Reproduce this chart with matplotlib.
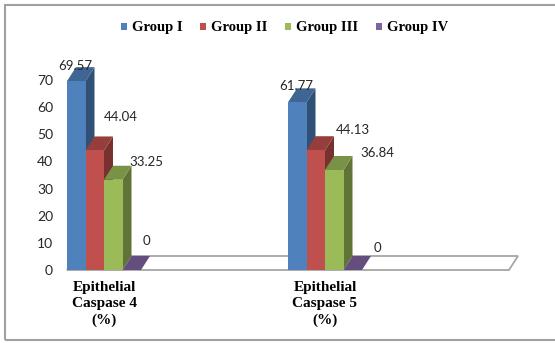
import matplotlib
matplotlib.use("Agg")
import matplotlib.pyplot as plt
import matplotlib.colors as mcolors
from matplotlib.patches import Polygon, Rectangle, Patch

# ---- data ----
categories = ["Epithelial\nCaspase 4\n(%)", "Epithelial\nCaspase 5\n(%)"]
groups = ["Group I", "Group II", "Group III", "Group IV"]
group_i = [69.57, 61.77]
group_ii = [44.04, 44.13]
group_iii = [33.25, 36.84]
group_iv = [0, 0]
series = [group_i, group_ii, group_iii, group_iv]
y_ticks = [0, 10, 20, 30, 40, 50, 60, 70]

# ---- styling ----
front_colors = ["#4F81BD", "#C0504D", "#9BBB59", "#8064A2"]
# label offsets (pixels) from the front-top-left corner of each bar
label_offsets = [
    [(8.5, 15), (35.5, 33.5), (42, 18), (24, 29)],
    [(8, 16), (46, 20), (52.5, 17), (34, 22)],
]

W, H = 555, 343
fig = plt.figure(figsize=(W / 100, H / 100), dpi=100)
ax = fig.add_axes([67 / W, (H - 270) / H, 442 / W, 190 / H])
ax.set_xlim(0, len(categories))
ax.set_ylim(0, 70)

# pixel sizes in data units
ux = len(categories) / 442.0
uy = 70 / 190.0
DX, DY = 9 * ux, 14 * uy
bar_w = 18.5 * ux


def shade(c, f):
    r, g, b = mcolors.to_rgb(c)
    return (r * f, g * f, b * f)


# floor
floor = Polygon([(0, 0), (len(categories), 0), (len(categories) + DX, DY), (DX, DY)],
                closed=True, facecolor="white", edgecolor="#a6a6a6", lw=1.3,
                clip_on=False, zorder=1)
ax.add_patch(floor)

z = 2
for i, cat in enumerate(categories):
    for j, vals in enumerate(series):
        v = vals[i]
        x0 = i + j * bar_w
        x1 = x0 + bar_w
        col = front_colors[j]
        side = Polygon([(x1, 0), (x1 + DX, DY), (x1 + DX, v + DY), (x1, v)],
                       closed=True, facecolor=shade(col, 0.62), edgecolor="none",
                       clip_on=False, zorder=z)
        top = Polygon([(x0, v), (x1, v), (x1 + DX, v + DY), (x0 + DX, v + DY)],
                      closed=True, facecolor=shade(col, 0.78), edgecolor="none",
                      clip_on=False, zorder=z)
        front = Rectangle((x0, 0), bar_w, v, facecolor=col, edgecolor="none",
                          clip_on=False, zorder=z)
        for p in (side, top, front):
            ax.add_patch(p)
        z += 1
        ox, oy = label_offsets[i][j]
        ax.annotate(f"{v:g}", xy=(x0, v), xytext=(ox * 0.72, oy * 0.72),
                    textcoords="offset points", ha="center", va="center",
                    fontsize=9.5, family="Lato", color="#262626",
                    annotation_clip=False, zorder=50)

ax.set_xticks([i + 2 * bar_w for i in range(len(categories))])
ax.set_xticklabels(categories, family="Liberation Serif", fontweight="bold",
                   fontsize=11, linespacing=1.32, multialignment="center")
ax.set_yticks(y_ticks)
ax.set_yticklabels([str(t) for t in y_ticks], family="Lato", fontsize=10,
                   color="#262626")
ax.tick_params(axis="both", length=0)
ax.tick_params(axis="y", pad=10)
ax.tick_params(axis="x", pad=8)
for s in ax.spines.values():
    s.set_visible(False)
ax.patch.set_alpha(0)

handles = [Patch(facecolor=c, edgecolor="none") for c in front_colors]
fig.legend(handles, groups, loc="center", bbox_to_anchor=(284.5 / W, 1 - 28 / H),
           ncol=4, frameon=False, handlelength=0.42, handleheight=0.42,
           handletextpad=0.35, columnspacing=1.2,
           prop={"family": "Liberation Serif", "weight": "bold", "size": 10.5})

# outer frame
fig.add_artist(Rectangle((5 / W, 3 / H), (W + 10) / W, (340 - 5) / H,
                         transform=fig.transFigure, fill=False,
                         edgecolor="#a0a0a0", lw=1.5))

fig.savefig("out.png", dpi=100)
